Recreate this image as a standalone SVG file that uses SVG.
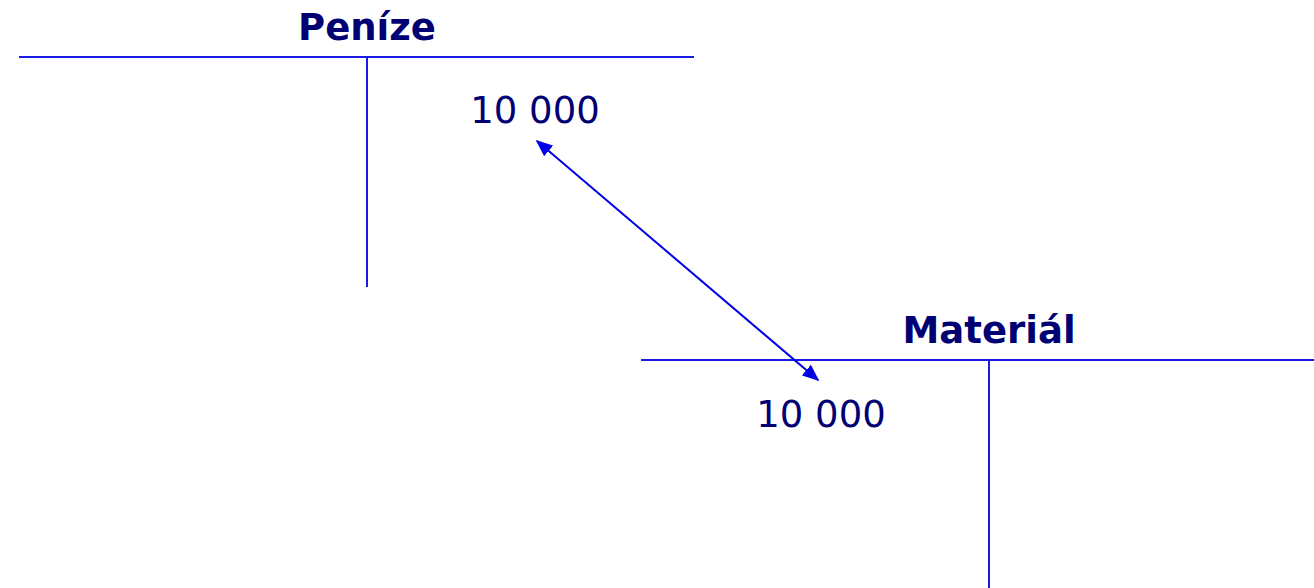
<svg xmlns="http://www.w3.org/2000/svg" width="1314" height="588" viewBox="0 0 1314 588">
<style>
.ln{stroke:#1a1ae6;stroke-width:2;fill:none}
.t{font-family:"DejaVu Sans","Liberation Sans",sans-serif;fill:#000073}
.h{font-weight:bold;font-size:37px}
.v{font-size:37px}
</style>
<defs>
<marker id="ah" viewBox="0 0 10 10" refX="9" refY="5" markerWidth="17" markerHeight="14" markerUnits="userSpaceOnUse" orient="auto-start-reverse" preserveAspectRatio="none">
<path d="M0,0 L10,5 L0,10 z" fill="#0000e6"/>
</marker>
</defs>
<rect width="1314" height="588" fill="#fff"/>
<g id="penize">
<text class="t h" x="367" y="40" text-anchor="middle">Peníze</text>
<line class="ln" x1="19" y1="57" x2="694" y2="57"/>
<line class="ln" x1="367" y1="57" x2="367" y2="287"/>
<text class="t v" x="535" y="123" text-anchor="middle">10 000</text>
</g>
<g id="material">
<text class="t h" x="989" y="343" text-anchor="middle">Materiál</text>
<line class="ln" x1="641" y1="360" x2="1314" y2="360"/>
<line class="ln" x1="989" y1="360" x2="989" y2="588"/>
<text class="t v" x="821" y="427" text-anchor="middle">10 000</text>
</g>
<g id="connectors">
<line x1="537" y1="141" x2="818" y2="380" stroke="#0000e6" stroke-width="2" marker-start="url(#ah)" marker-end="url(#ah)"/>
</g>
</svg>
